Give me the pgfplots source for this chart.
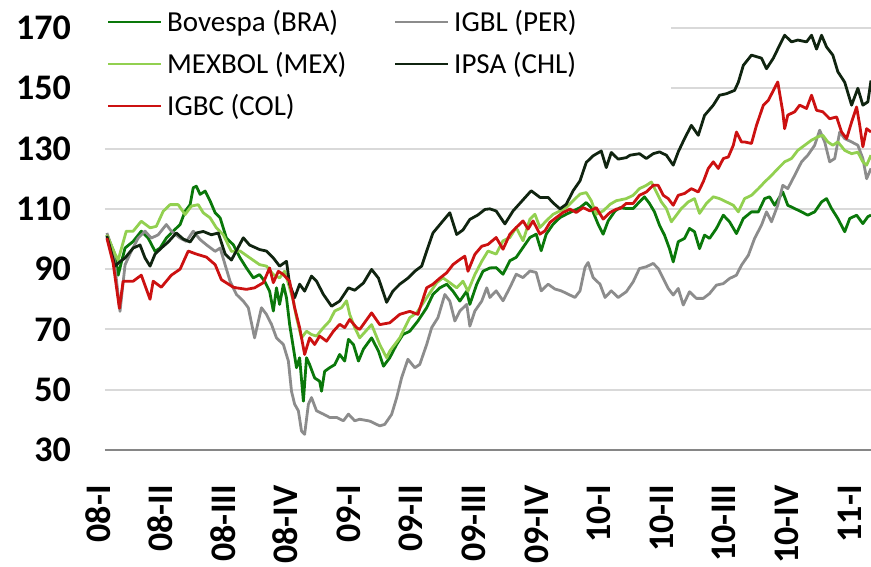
\documentclass[border=0pt]{standalone}
\usepackage{fontspec}
\setmainfont{Carlito}
\usepackage{pgfplots}
\pgfplotsset{compat=1.18}

\definecolor{bovespa}{HTML}{0A780A}
\definecolor{igbl}{HTML}{8C8C8C}
\definecolor{mexbol}{HTML}{92D050}
\definecolor{ipsa}{HTML}{102410}
\definecolor{igbc}{HTML}{CC1111}
\definecolor{gridgray}{HTML}{D9D9D9}
\definecolor{axisgray}{HTML}{868686}

\begin{document}
\begin{tikzpicture}
\useasboundingbox (0,0) rectangle (871pt,566pt);
\begin{axis}[
  at={(105pt,116pt)}, anchor=south west,
  scale only axis, width=766pt, height=422pt,
  xmin=-0.03, xmax=12.21, ymin=30, ymax=170,
  ytick={30,50,...,170},
  xtick={0,...,12},
  xticklabels={08-I,08-II,08-III,08-IV,09-I,09-II,09-III,09-IV,10-I,10-II,10-III,10-IV,11-I},
  axis x line*=bottom, axis y line*=left,
  x axis line style={-, draw=axisgray, line width=2.5pt},
  y axis line style={draw=none},
  major tick length=0pt,
  ymajorgrids, grid style={gridgray, line width=2pt},
  /pgf/number format/assume math mode=true,
  ticklabel style={font=\fontsize{36}{40}\selectfont\bfseries, inner sep=0pt},
  yticklabel style={anchor=east}, yticklabel shift=34pt,
  xticklabel style={rotate=90, anchor=east, text height=0.63em, text depth=0pt},
  xticklabel shift=35pt,
  legend columns=2,
  legend cell align=left,
  legend style={at={(0,1)}, anchor=north west, xshift=-5pt, yshift=28pt,
    draw=none, fill=white, inner xsep=7pt, inner ysep=7pt,
    column sep=5pt, row sep=12pt, font=\fontsize{29}{33}\selectfont,
    nodes={inner sep=0pt, text height=24pt, text depth=6pt}},
  legend image code/.code={\draw[#1, line width=2pt] (0pt,0pt) -- (53pt,0pt);},
  every axis plot/.append style={no markers, line width=2.8pt, line join=round},
]
% Bovespa (BRA)
\addplot[bovespa] coordinates {
(0,101.4) (0.13,94.8) (0.18,88) (0.29,97) (0.42,99.2) (0.55,102.6) (0.66,100.3) (0.77,95.9) (0.85,97) (0.95,100.3)
(1.06,102.6) (1.17,104.8) (1.25,109.2) (1.33,111.4) (1.38,117) (1.43,117.5) (1.49,114.8) (1.57,115.9) (1.65,112.6) (1.73,108.7)
(1.81,107) (1.91,100.3) (2.02,98.1) (2.13,93.7) (2.23,90.4) (2.34,87.1) (2.44,88.2) (2.52,86) (2.60,82.7) (2.66,76.1)
(2.71,83.8) (2.76,78.3) (2.82,84.9) (2.87,80.5) (2.92,71.7) (2.98,63.9) (3.03,57.3) (3.08,60.6) (3.14,46.2) (3.19,60.6)
(3.24,58.3) (3.32,53.9) (3.40,52.8) (3.43,49.5) (3.48,56.1) (3.56,57.3) (3.64,58.3) (3.72,61.7) (3.80,59.5) (3.86,66.7)
(3.94,65) (4.02,59.5) (4.10,63.5) (4.23,67.2) (4.34,62.8) (4.42,57.8) (4.52,60.6) (4.63,65) (4.73,68.3) (4.84,69.4)
(4.97,72.8) (5.11,77.2) (5.21,81.6) (5.32,83.8) (5.43,85) (5.53,82.7) (5.64,79.4) (5.75,82.7) (5.80,78.3) (5.91,85)
(6.01,89.3) (6.12,90.4) (6.22,90.5) (6.33,88.3) (6.44,92.8) (6.54,93.9) (6.65,97.2) (6.76,100.5) (6.86,101.6) (6.94,96.1)
(7.02,101.6) (7.13,104.9) (7.24,107.1) (7.34,108.2) (7.45,109.3) (7.56,110.4) (7.66,112.1) (7.74,110.4) (7.85,104.9) (7.93,101.6)
(8.01,106) (8.12,109.3) (8.20,110.4) (8.30,110.1) (8.41,110.1) (8.51,112.3) (8.59,114) (8.67,111.8) (8.75,109) (8.83,104.6)
(8.91,101.3) (8.99,96.8) (9.05,92.4) (9.13,99.1) (9.23,100.2) (9.31,103.5) (9.39,102.4) (9.47,96.8) (9.55,101.3) (9.63,100.2)
(9.74,103.5) (9.85,107.9) (9.95,105.7) (10.06,101.8) (10.17,106.8) (10.30,109) (10.41,109) (10.51,113.4) (10.59,114) (10.67,111.2)
(10.80,115.6) (10.88,111.2) (10.99,110.1) (11.10,109) (11.20,107.9) (11.31,109) (11.42,112.3) (11.50,113.4) (11.58,110.1) (11.68,106.8)
(11.79,102.4) (11.87,106.8) (11.98,107.9) (12.08,105.1) (12.16,107.4) (12.21,107.9)
};
\addlegendentry{\makebox[222pt][l]{Bovespa (BRA)}}
% IGBL (PER)
\addplot[igbl] coordinates {
(0,102) (0.10,96) (0.21,76) (0.29,91.4) (0.39,96) (0.50,100.3) (0.61,102.6) (0.71,100.3) (0.82,101.4) (0.95,104.8)
(1.03,102.6) (1.17,100.3) (1.27,99.2) (1.38,102.6) (1.49,99.8) (1.59,98.1) (1.73,95.9) (1.81,97) (1.89,91.4) (1.97,85.9)
(2.07,81.6) (2.18,79.4) (2.26,77.2) (2.36,67.2) (2.47,77.2) (2.55,75) (2.63,71.7) (2.71,67.2) (2.82,65) (2.90,59.5)
(2.95,49.5) (3.00,45.2) (3.06,43) (3.11,36.3) (3.16,35.2) (3.22,45.2) (3.27,47.4) (3.35,43) (3.46,41.9) (3.56,40.8)
(3.67,40.8) (3.78,39.7) (3.86,41.9) (3.96,39.7) (4.04,40.2) (4.20,39.6) (4.36,38) (4.44,38.5) (4.55,41.8) (4.63,47.3)
(4.71,54) (4.81,60.1) (4.92,57.3) (5.00,58.4) (5.11,65) (5.19,70.6) (5.29,73.9) (5.40,81.6) (5.48,79.4) (5.56,72.8)
(5.64,76.1) (5.75,78.3) (5.80,71.1) (5.88,76.1) (5.99,79.4) (6.07,83.8) (6.12,80.6) (6.22,82.8) (6.33,79.5) (6.44,83.9)
(6.54,88.3) (6.65,87.2) (6.76,89.4) (6.86,88.9) (6.94,82.8) (7.05,85) (7.16,83.4) (7.26,82.8) (7.37,81.7) (7.48,80.6)
(7.56,82.8) (7.64,90.6) (7.69,92.2) (7.77,87.2) (7.88,85) (7.96,80.6) (8.06,82.8) (8.17,80.6) (8.30,82.5) (8.41,85.8)
(8.51,90.2) (8.62,90.8) (8.73,91.9) (8.81,90.2) (8.89,86.9) (8.97,83.6) (9.05,81.4) (9.13,83.6) (9.21,78.1) (9.31,82.5)
(9.42,80.3) (9.53,80.3) (9.63,81.9) (9.74,84.7) (9.85,85.2) (9.95,86.9) (10.06,88) (10.14,91.3) (10.25,94.6) (10.35,100.2)
(10.46,104.6) (10.54,109) (10.62,105.7) (10.72,111.2) (10.80,117.8) (10.88,116.7) (10.99,121.1) (11.10,125.6) (11.20,127.8) (11.31,131.1)
(11.39,136.1) (11.47,132.2) (11.55,125.6) (11.63,126.7) (11.71,135.5) (11.79,133.3) (11.90,132.2) (12.00,131.1) (12.08,126.7) (12.14,120)
(12.21,123.4)
};
\addlegendentry{\makebox[210pt][l]{IGBL (PER)}}
% MEXBOL (MEX)
\addplot[mexbol] coordinates {
(0,101.4) (0.13,95) (0.18,93) (0.31,102.6) (0.42,102.6) (0.55,105.9) (0.69,103.7) (0.79,104.2) (0.90,109.2) (1.01,111.4)
(1.14,111.4) (1.25,108.1) (1.35,110.9) (1.46,111.4) (1.54,108.7) (1.65,107) (1.75,103.7) (1.86,101.4) (1.99,95.9) (2.13,96)
(2.28,93.8) (2.44,91.5) (2.55,91) (2.66,88.2) (2.76,87.1) (2.84,89.3) (2.92,83.8) (2.98,79.4) (3.03,73.9) (3.11,67.2)
(3.19,69.4) (3.27,68.3) (3.35,67.8) (3.46,70.6) (3.56,72.8) (3.64,76.1) (3.75,77.2) (3.83,79.5) (3.88,75) (3.96,70.6)
(4.04,67.2) (4.23,71.6) (4.36,65) (4.47,60.6) (4.52,62.8) (4.68,67.2) (4.84,73.9) (4.95,75.5) (5.11,80.5) (5.27,85.5)
(5.37,87.1) (5.48,85.5) (5.59,83.8) (5.69,86) (5.77,82.7) (5.88,88.2) (5.99,92.6) (6.09,96) (6.22,95) (6.33,99.4)
(6.44,100.5) (6.54,103.8) (6.65,99.4) (6.76,106.6) (6.84,108.2) (6.92,103.8) (7.02,106) (7.13,108.2) (7.24,109.3) (7.34,110.4)
(7.45,112.7) (7.56,114.9) (7.66,115.4) (7.74,112.7) (7.82,108.2) (7.93,109.3) (8.04,111.5) (8.14,112.7) (8.30,113.4) (8.41,114.5)
(8.51,116.7) (8.62,117.8) (8.70,118.9) (8.78,115.6) (8.86,112.3) (8.94,110.1) (9.02,105.7) (9.10,107.9) (9.18,110.1) (9.29,112.3)
(9.39,113.4) (9.47,108.5) (9.58,111.8) (9.69,114) (9.79,113.4) (9.90,112.3) (10.01,111.2) (10.09,109) (10.19,113.4) (10.30,114.5)
(10.41,116.7) (10.51,118.9) (10.62,121.1) (10.72,123.3) (10.83,125.6) (10.94,126.7) (11.04,129.4) (11.15,131.1) (11.26,132.8) (11.36,133.9)
(11.44,134.4) (11.52,132.2) (11.60,131.1) (11.68,132.2) (11.79,129.4) (11.90,128.3) (12.00,128.8) (12.08,125.6) (12.14,124.5) (12.21,127.8)
};
\addlegendentry{\makebox[222pt][l]{MEXBOL (MEX)}}
% IPSA (CHL)
\addplot[ipsa] coordinates {
(0,101) (0.13,91) (0.21,92.5) (0.29,93.7) (0.42,97) (0.53,98) (0.61,93.7) (0.69,91) (0.77,95) (0.87,97)
(0.98,99) (1.11,102) (1.22,100) (1.33,99) (1.43,102) (1.54,102.5) (1.67,101.4) (1.78,102) (1.89,95) (1.99,93)
(2.18,100.4) (2.28,98) (2.44,96.5) (2.55,96) (2.66,93.7) (2.76,91) (2.87,92.6) (2.92,85) (3.00,80.5) (3.08,85)
(3.16,82.7) (3.27,87.7) (3.35,86) (3.46,81.6) (3.59,77.7) (3.72,79.4) (3.86,83.8) (3.96,83) (4.10,85.4) (4.23,89.9)
(4.34,87) (4.47,79) (4.57,82.7) (4.68,85) (4.81,87) (4.92,89.3) (5.03,91) (5.11,96) (5.21,102) (5.37,106)
(5.48,108.7) (5.59,101.5) (5.69,103) (5.80,106.5) (5.93,108) (6.04,109.8) (6.12,110) (6.22,109.3) (6.36,105) (6.49,109.3)
(6.65,113) (6.78,116) (6.92,113.8) (7.05,113.8) (7.13,112) (7.24,110) (7.34,111.5) (7.45,116) (7.56,119.3) (7.66,125.4)
(7.77,127.6) (7.90,129.2) (7.98,123.7) (8.06,128.7) (8.17,126.5) (8.30,127) (8.36,127.8) (8.51,128.3) (8.62,126.7) (8.73,128.3)
(8.83,128.9) (8.94,127.8) (9.05,124.5) (9.13,128.9) (9.23,133.3) (9.34,137.7) (9.45,134.4) (9.55,141) (9.69,144.4) (9.79,147.7)
(9.90,148.2) (10.03,149.3) (10.09,152) (10.17,157.6) (10.30,161) (10.46,160) (10.54,156.5) (10.65,160) (10.75,164.3) (10.83,167.6)
(10.94,165.4) (11.04,166) (11.18,165.4) (11.26,167.6) (11.34,163) (11.42,167.6) (11.50,163.7) (11.60,161) (11.68,155.5) (11.79,152)
(11.90,144.4) (12.00,150) (12.08,144.4) (12.16,145.5) (12.21,152.6)
};
\addlegendentry{\makebox[210pt][l]{IPSA (CHL)}}
% IGBC (COL)
\addplot[igbc] coordinates {
(0,100.3) (0.10,92) (0.20,77) (0.26,86) (0.42,86) (0.55,88) (0.69,80) (0.74,86) (0.87,84) (1.03,88)
(1.17,90) (1.30,96) (1.43,95) (1.59,94) (1.73,91.5) (1.83,86.5) (2.02,84) (2.07,83.8) (2.23,83.3) (2.36,83.8)
(2.50,85.5) (2.60,90.4) (2.66,85.5) (2.74,89.3) (2.82,88.2) (2.92,86) (3.00,77.2) (3.08,70.6) (3.16,61.7) (3.24,67.2)
(3.32,65) (3.40,67.8) (3.51,66.1) (3.62,69.4) (3.72,71.7) (3.80,70.6) (3.88,73.3) (3.99,70.6) (4.04,70) (4.23,75.5)
(4.36,71.6) (4.52,72.2) (4.68,75) (4.84,76) (4.97,75) (5.11,83.8) (5.21,85) (5.32,87) (5.43,88.8) (5.53,91.5)
(5.64,93.2) (5.72,94.3) (5.77,89.3) (5.88,94.9) (5.99,97.6) (6.09,98.2) (6.22,100.5) (6.33,96.6) (6.44,101.6) (6.54,103.8)
(6.65,106) (6.73,103.3) (6.81,106) (6.92,101.6) (7.00,102.7) (7.08,105.5) (7.18,107.1) (7.29,108.8) (7.40,109.9) (7.50,108.8)
(7.61,110.4) (7.72,109.3) (7.82,110.4) (7.93,106.6) (8.04,108.8) (8.14,109.9) (8.20,110.1) (8.30,111.8) (8.41,111.8) (8.51,114.5)
(8.62,115.6) (8.73,117.8) (8.81,117.8) (8.89,114.5) (8.97,113.4) (9.05,111.2) (9.13,114.5) (9.23,115.1) (9.34,116.7) (9.45,115.6)
(9.53,119) (9.61,123.4) (9.69,125.6) (9.77,123.4) (9.85,126.7) (9.93,127.2) (10.01,131.1) (10.06,135.5) (10.14,132.2) (10.19,132.2)
(10.30,131.7) (10.38,137.7) (10.49,144.4) (10.57,146) (10.65,149.3) (10.72,152.1) (10.80,142.2) (10.83,136.6) (10.88,141.1) (10.99,142.2)
(11.07,144.4) (11.18,143.3) (11.26,147.7) (11.34,142.7) (11.44,142.2) (11.55,139.9) (11.66,140.5) (11.74,135.5) (11.82,133.3) (11.90,138.8)
(11.98,143.8) (12.03,137.7) (12.08,130.6) (12.14,136.6) (12.21,135.5)
};
\addlegendentry{\makebox[222pt][l]{IGBC (COL)}}
\end{axis}
\end{tikzpicture}
\end{document}
